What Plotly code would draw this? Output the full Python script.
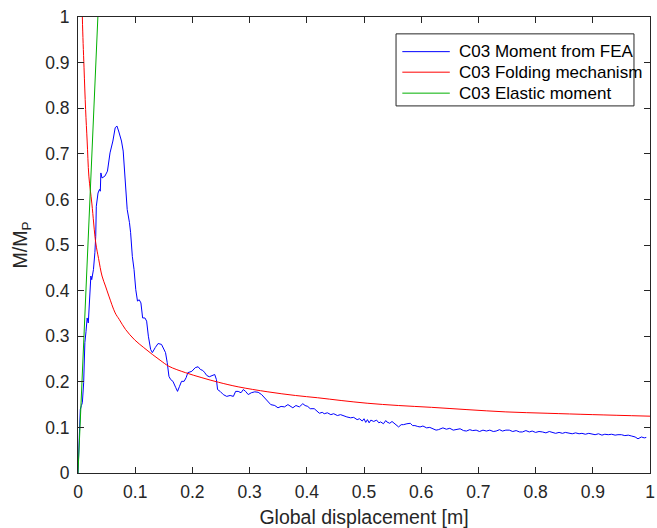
import plotly.graph_objects as go

# FEA moment response (global displacement in m, normalised moment M/Mp)
fea_disp = [
    0, 0.0007, 0.002, 0.003, 0.004, 0.006, 0.0076, 0.0099, 0.011, 0.012, 0.014, 0.016, 0.018,
    0.020, 0.0225, 0.024, 0.027, 0.0295, 0.031, 0.032, 0.035, 0.0376, 0.039, 0.040, 0.042,
    0.047, 0.0515, 0.056, 0.061, 0.065, 0.068, 0.071, 0.076, 0.079, 0.083, 0.086, 0.090,
    0.092, 0.095, 0.098, 0.101, 0.104, 0.107, 0.110, 0.113, 0.117, 0.120, 0.123, 0.127,
    0.130, 0.135, 0.140, 0.146, 0.150, 0.153, 0.156, 0.159, 0.162, 0.166, 0.171, 0.174,
    0.1775, 0.181, 0.1855, 0.189, 0.192, 0.199, 0.205, 0.210, 0.214, 0.218, 0.221, 0.225,
    0.2295, 0.234, 0.239, 0.242, 0.244, 0.2485, 0.254, 0.260, 0.266, 0.2716, 0.2756, 0.280,
    0.285, 0.289, 0.293, 0.2976, 0.303, 0.309, 0.315, 0.321, 0.3265, 0.332, 0.337, 0.344,
    0.3496, 0.355, 0.361, 0.367, 0.3716, 0.3756, 0.381, 0.387, 0.393, 0.397, 0.4016, 0.406,
    0.413, 0.418, 0.422, 0.427, 0.4305, 0.436, 0.442, 0.447, 0.4535, 0.459, 0.465, 0.470,
    0.4766, 0.482, 0.488, 0.492, 0.497, 0.500, 0.503, 0.506, 0.509, 0.512, 0.517, 0.522,
    0.526, 0.529, 0.534, 0.538, 0.540, 0.545, 0.549, 0.552, 0.556, 0.5605, 0.565, 0.569,
    0.575, 0.581, 0.585, 0.589, 0.594, 0.598, 0.603, 0.6095, 0.615, 0.621, 0.626, 0.630,
    0.635, 0.638, 0.644, 0.650, 0.656, 0.662, 0.668, 0.674, 0.679, 0.685, 0.690, 0.696,
    0.702, 0.708, 0.714, 0.720, 0.726, 0.731, 0.737, 0.742, 0.748, 0.754, 0.760, 0.766,
    0.772, 0.777, 0.783, 0.789, 0.794, 0.800, 0.806, 0.812, 0.818, 0.824, 0.830, 0.835,
    0.841, 0.847, 0.852, 0.858, 0.864, 0.870, 0.876, 0.881, 0.887, 0.893, 0.898, 0.904,
    0.910, 0.916, 0.921, 0.927, 0.933, 0.939, 0.944, 0.950, 0.956, 0.962, 0.968, 0.974,
    0.979, 0.982, 0.985, 0.990, 0.9935,
]
fea_moment = [
    0, 0.02, 0.06, 0.10, 0.139, 0.148, 0.154, 0.198, 0.25, 0.286, 0.31, 0.340, 0.329,
    0.388, 0.432, 0.424, 0.446, 0.483, 0.519, 0.585, 0.614, 0.622, 0.618, 0.658, 0.647,
    0.651, 0.662, 0.702, 0.728, 0.757, 0.761, 0.750, 0.728, 0.706, 0.644, 0.578, 0.549,
    0.527, 0.475, 0.446, 0.402, 0.377, 0.380, 0.373, 0.340, 0.340, 0.333, 0.300, 0.271,
    0.264, 0.275, 0.284, 0.282, 0.271, 0.264, 0.242, 0.212, 0.205, 0.201, 0.187, 0.179,
    0.190, 0.201, 0.201, 0.209, 0.220, 0.223, 0.231, 0.233, 0.227, 0.225, 0.221, 0.214,
    0.211, 0.214, 0.216, 0.205, 0.183, 0.179, 0.172, 0.168, 0.170, 0.168, 0.179, 0.179,
    0.176, 0.183, 0.179, 0.172, 0.176, 0.178, 0.177, 0.172, 0.165, 0.157, 0.150, 0.148,
    0.143, 0.146, 0.145, 0.150, 0.146, 0.143, 0.148, 0.145, 0.152, 0.148, 0.146, 0.141,
    0.141, 0.136, 0.131, 0.133, 0.130, 0.132, 0.128, 0.130, 0.126, 0.128, 0.125, 0.123,
    0.121, 0.122, 0.117, 0.119, 0.114, 0.119, 0.111, 0.117, 0.110, 0.116, 0.113, 0.116,
    0.110, 0.112, 0.108, 0.115, 0.112, 0.109, 0.113, 0.110, 0.104, 0.101, 0.106, 0.106,
    0.108, 0.109, 0.104, 0.104, 0.102, 0.101, 0.103, 0.099, 0.100, 0.097, 0.094, 0.095,
    0.098, 0.099, 0.096, 0.098, 0.094, 0.095, 0.097, 0.093, 0.092, 0.095, 0.093, 0.094,
    0.091, 0.094, 0.092, 0.094, 0.091, 0.092, 0.095, 0.092, 0.094, 0.094, 0.091, 0.093,
    0.090, 0.090, 0.093, 0.090, 0.092, 0.089, 0.091, 0.090, 0.088, 0.091, 0.088, 0.087,
    0.089, 0.087, 0.089, 0.088, 0.086, 0.088, 0.086, 0.087, 0.085, 0.087, 0.085, 0.084,
    0.086, 0.083, 0.085, 0.084, 0.085, 0.083, 0.084, 0.084, 0.082, 0.083, 0.081, 0.079,
    0.075, 0.078, 0.079, 0.077, 0.078,
]

# Folding mechanism curve
fold_disp = [
    0.005, 0.0076, 0.0105, 0.0133, 0.016, 0.019, 0.0243, 0.031, 0.036, 0.042, 0.048, 0.054,
    0.065, 0.072, 0.083, 0.099, 0.115, 0.130, 0.145, 0.159, 0.188, 0.2166, 0.2456, 0.28,
    0.332, 0.38, 0.419, 0.46, 0.5055, 0.56, 0.618, 0.68, 0.748, 0.82, 0.9, 1.0,
]
fold_moment = [
    1.25, 1.0, 0.89, 0.797, 0.728, 0.651, 0.59, 0.505, 0.47, 0.432, 0.41, 0.388,
    0.351, 0.337, 0.315, 0.292, 0.275, 0.260, 0.246, 0.234, 0.220, 0.209, 0.199, 0.189,
    0.178, 0.170, 0.165, 0.159, 0.153, 0.148, 0.144, 0.139, 0.134, 0.131, 0.128, 0.1246,
]

# Elastic moment line
elastic_disp = [0, 0.0417]
elastic_moment = [0, 1.2]

x_ticks = [0, 0.1, 0.2, 0.3, 0.4, 0.5, 0.6, 0.7, 0.8, 0.9, 1]
x_tick_text = ["0", "0.1", "0.2", "0.3", "0.4", "0.5", "0.6", "0.7", "0.8", "0.9", "1"]
y_ticks = [0, 0.1, 0.2, 0.3, 0.4, 0.5, 0.6, 0.7, 0.8, 0.9, 1]
y_tick_text = ["0", "0.1", "0.2", "0.3", "0.4", "0.5", "0.6", "0.7", "0.8", "0.9", "1"]

FONT = "Liberation Sans, Arial, sans-serif"
AXIS_COLOR = "#262626"

series = [
    ("C03 Moment from FEA", fea_disp, fea_moment, "#0000ff", "linear"),
    ("C03 Folding mechanism", fold_disp, fold_moment, "#ff0000", "spline"),
    ("C03 Elastic moment", elastic_disp, elastic_moment, "#00b000", "linear"),
]

fig = go.Figure()
for name, xs, ys, color, shape in series:
    fig.add_trace(go.Scatter(
        x=xs, y=ys, mode="lines", name=name, showlegend=False,
        line=dict(color=color, width=1, shape=shape),
    ))

# Boxed legend in the upper-right corner of the axes (paper coordinates)
leg_x0, leg_x1 = 0.556, 0.972
leg_y0, leg_y1 = 0.805, 0.963
row_y = [0.924, 0.879, 0.833]
shapes = [dict(type="rect", xref="paper", yref="paper", x0=leg_x0, x1=leg_x1,
               y0=leg_y0, y1=leg_y1, line=dict(color=AXIS_COLOR, width=1),
               fillcolor="white", layer="above")]
annotations = []
for (name, _, _, color, _), ry in zip(series, row_y):
    shapes.append(dict(type="line", xref="paper", yref="paper", x0=0.567, x1=0.650,
                       y0=ry, y1=ry, line=dict(color=color, width=1), layer="above"))
    annotations.append(dict(xref="paper", yref="paper", x=0.662, y=ry, text=name,
                            showarrow=False, xanchor="left", yanchor="middle",
                            font=dict(family=FONT, size=17, color="black")))

axis_common = dict(
    range=[0, 1], showgrid=False, zeroline=False,
    showline=True, linecolor=AXIS_COLOR, linewidth=1, mirror="ticks",
    ticks="inside", ticklen=6, tickcolor=AXIS_COLOR, tickwidth=1,
    tickfont=dict(family=FONT, size=17.5, color=AXIS_COLOR),
    ticklabeloverflow="allow",
)

fig.update_layout(
    width=657, height=528,
    margin=dict(l=78, r=2, t=17, b=54),
    paper_bgcolor="white", plot_bgcolor="white",
    xaxis=dict(
        **axis_common, tickvals=x_ticks, ticktext=x_tick_text, ticklabelstandoff=3,
        title=dict(text="Global displacement [m]", font=dict(family=FONT, size=19.5, color=AXIS_COLOR), standoff=10),
    ),
    yaxis=dict(
        **axis_common, tickvals=y_ticks, ticktext=y_tick_text, ticklabelstandoff=4,
        title=dict(text="M/M<sub>P</sub>", font=dict(family=FONT, size=19.5, color=AXIS_COLOR), standoff=12),
    ),
    shapes=shapes,
    annotations=annotations,
    showlegend=False,
)

fig.write_html("out.html")
